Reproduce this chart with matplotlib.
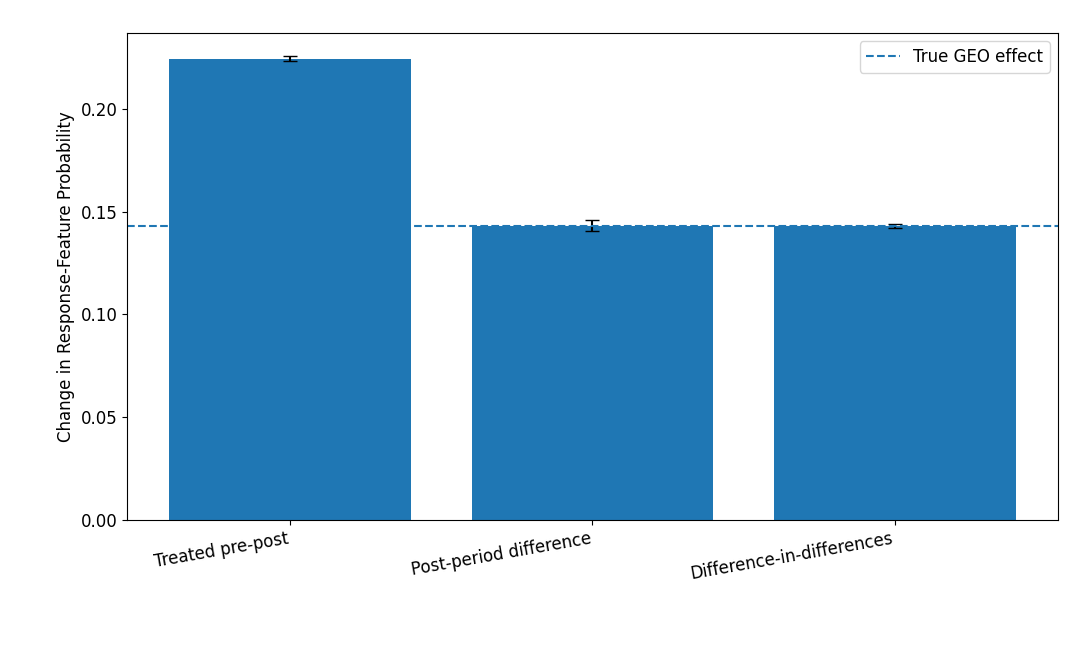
import matplotlib
matplotlib.use("Agg")
import matplotlib.pyplot as plt

plt.rcParams["font.size"] = 12

categories = ["Treated pre-post", "Post-period difference", "Difference-in-differences"]
values = [0.2244, 0.1432, 0.1430]
errors = [0.0012, 0.0025, 0.0008]
true_effect = 0.1432

fig = plt.figure(figsize=(10.92, 6.52), dpi=100)
ax = fig.add_axes([127/1092, 1-520/652, (1058-127)/1092, (520-33)/652])
x = range(len(categories))
ax.bar(x, values, yerr=errors, capsize=5, color="#1f77b4", width=0.8)
ax.axhline(true_effect, linestyle="--", color="#1f77b4", label="True GEO effect")
ax.set_xticks(list(x))
ax.set_xticklabels(categories, rotation=10, ha="right")
ax.set_ylabel("Change in Response-Feature Probability")
ax.legend(loc="upper right")
fig.savefig("out.png", dpi=100)
